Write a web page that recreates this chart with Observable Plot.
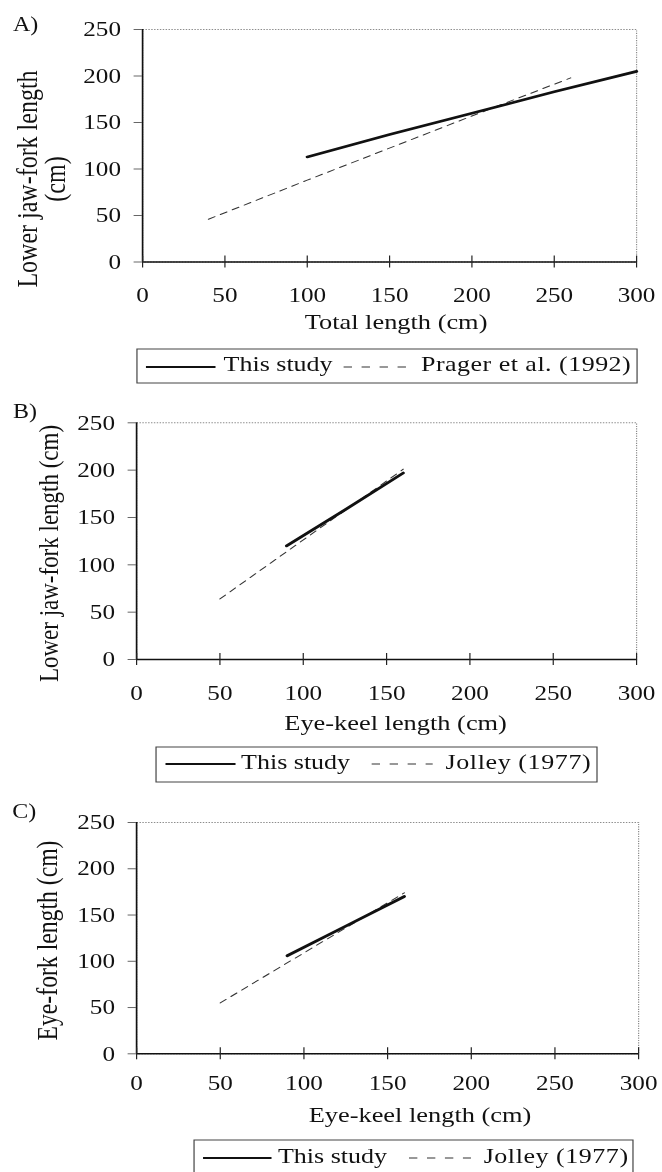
<!DOCTYPE html>
<html>
<head>
<meta charset="utf-8">
<script src="https://cdn.jsdelivr.net/npm/d3@7"></script>
<script src="https://cdn.jsdelivr.net/npm/@observablehq/plot@0.6"></script>
<style>
html,body{margin:0;padding:0;background:#fff;overflow:hidden;}
#wrap{position:relative;width:552px;height:1172px;transform:scaleX(1.19928);transform-origin:0 0;}
</style>
</head>
<body>
<div id="wrap"></div>
<script>
// ---- data ----
const xTicks = [0, 50, 100, 150, 200, 250, 300];
const yTicks = [0, 50, 100, 150, 200, 250];

// Panel A: lower jaw-fork length vs total length
const aThisX = [100, 150, 200, 250, 300];
const aThisY = [113, 137, 160, 183, 205];
const aRefX = [40, 100, 200, 260];
const aRefY = [46, 88, 157, 198];
const aNames = ["This study", "Prager et al. (1992)"];

// Panel B: lower jaw-fork length vs eye-keel length
const bThisX = [90, 125, 160];
const bThisY = [120, 158, 197];
const bRefX = [50, 160];
const bRefY = [64, 201];
const bNames = ["This study", "Jolley (1977)"];

// Panel C: eye-fork length vs eye-keel length
const cThisX = [90, 125, 160];
const cThisY = [106, 138, 170];
const cRefX = [50, 160];
const cRefY = [55, 174];
const cNames = ["This study", "Jolley (1977)"];

// ---- layout ----
const W = 552;
const FONT = '"Liberation Serif","Times New Roman",Times,serif';
const wrap = document.getElementById("wrap");

const panels = [
  {
    letter: "A)", thisX: aThisX, thisY: aThisY, refX: aRefX, refY: aRefY, names: aNames,
    yTitle: ["Lower jaw-fork length", "(cm)"], yTitleX: [30.0, 53.4], yTitleDy: 33.25, yTitleSize: 24,
    xTitle: "Total length (cm)", xTitleDx: 5.4, xTitleDy: 66.5,
    top: 0, height: 340, mt: 29, mb: 78.5, ml: 118.4, mr: 21.7, xPad: 19,
    letterX: 10.3, letterDy: 1,
    legend: {top: 349, h: 34, x0: 114.2, x1: 531.2, lineY: 18, base: 22.5, s0: 121.7, s1: 179.7, t1: 186.4, d0: 286.5, d1: 339.4, t2: 351.0, ls2: 0.4, open: false}
  },
  {
    letter: "B)", thisX: bThisX, thisY: bThisY, refX: bRefX, refY: bRefY, names: bNames,
    yTitle: ["Lower jaw-fork length (cm)"], yTitleX: [48.0], yTitleDy: 12.35, yTitleSize: 23,
    xTitle: "Eye-keel length (cm)", xTitleDx: 7.5, xTitleDy: 70,
    top: 390, height: 350, mt: 32.3, mb: 81, ml: 113.4, mr: 21.7, xPad: 19.5,
    letterX: 10.3, letterDy: -5.3,
    legend: {top: 747, h: 35, x0: 130.1, x1: 497.8, lineY: 17, base: 22, s0: 138.0, s1: 196.4, t1: 201.0, d0: 309.9, d1: 360.8, t2: 371.5, ls2: 0.5, open: false}
  },
  {
    letter: "C)", thisX: cThisX, thisY: cThisY, refX: cRefX, refY: cRefY, names: cNames,
    yTitle: ["Eye-fork length (cm)"], yTitleX: [47.3], yTitleDy: 2.35, yTitleSize: 23.7,
    xTitle: "Eye-keel length (cm)", xTitleDx: 27, xTitleDy: 67.7,
    top: 790, height: 345, mt: 32, mb: 81.7, ml: 113.4, mr: 20.0, xPad: 15,
    letterX: 9.8, letterDy: -5,
    legend: {top: 1140, h: 40, x0: 161.8, x1: 527.8, lineY: 18, base: 23, s0: 169.3, s1: 226.4, t1: 231.8, d0: 341.0, d1: 392.7, t2: 403.3, ls2: 0.45, open: true}
  }
];

function drawPanel(cfg) {
  const thisData = cfg.thisX.map((x, i) => ({x, y: cfg.thisY[i]}));
  const refData = cfg.refX.map((x, i) => ({x, y: cfg.refY[i]}));
  const marks = [
    Plot.frame({stroke: "#8c8c8c", strokeDasharray: "1.2,1.2"}),
    Plot.line(refData, {x: "x", y: "y", stroke: "#333", strokeWidth: 1, strokeDasharray: "6,5"}),
    Plot.line(thisData, {x: "x", y: "y", stroke: "#111", strokeWidth: 2.7}),
    Plot.ruleX([0], {stroke: "#111", strokeWidth: 1.4}),
    Plot.ruleY([0], {stroke: "#111", strokeWidth: 1.4}),
    Plot.axisY({ticks: yTicks, tickSize: 7, tickPadding: 11, fontSize: 21, stroke: "#666", label: null}),
    Plot.axisX({ticks: xTicks, tickSize: 12, dy: -6, tickPadding: cfg.xPad, fontSize: 21, stroke: "#222", label: null}),
    Plot.text([cfg.letter], {frameAnchor: "top-left", text: d => d, textAnchor: "start", lineAnchor: "bottom",
      dx: cfg.letterX - cfg.ml, dy: cfg.letterDy, fontSize: 20}),
    ...cfg.yTitle.map((t, i) => Plot.text([t], {frameAnchor: "left", text: d => d, rotate: -90, textAnchor: "middle",
      lineAnchor: "bottom", dx: cfg.yTitleX[i] - cfg.ml, dy: cfg.yTitleDy, fontSize: cfg.yTitleSize})),
    Plot.text([cfg.xTitle], {frameAnchor: "bottom", text: d => d, textAnchor: "middle", lineAnchor: "bottom",
      dx: cfg.xTitleDx, dy: cfg.xTitleDy, fontSize: 22})
  ];
  const svg = Plot.plot({
    width: W, height: cfg.height,
    marginTop: cfg.mt, marginBottom: cfg.mb, marginLeft: cfg.ml, marginRight: cfg.mr,
    x: {domain: [0, 300]}, y: {domain: [0, 250]},
    style: {fontFamily: FONT, background: "transparent", color: "#111", overflow: "visible"},
    marks
  });
  svg.style.position = "absolute";
  svg.style.left = "0px";
  svg.style.top = cfg.top + "px";
  wrap.appendChild(svg);

  // legend below the chart
  const L = cfg.legend;
  const lg = d3.create("svg")
    .attr("width", W).attr("height", L.h + 4)
    .style("position", "absolute").style("left", "0px").style("top", (L.top - 2) + "px")
    .style("overflow", "visible")
    .style("font-family", FONT);
  const g = lg.append("g").attr("transform", "translate(0,2)");
  if (L.open) {
    g.append("path").attr("d", `M${L.x0},${L.h}V0H${L.x1}V${L.h}`)
      .attr("fill", "none").attr("stroke", "#444").attr("stroke-width", 1);
  } else {
    g.append("rect").attr("x", L.x0).attr("y", 0).attr("width", L.x1 - L.x0).attr("height", L.h)
      .attr("fill", "none").attr("stroke", "#444").attr("stroke-width", 1);
  }
  g.append("line").attr("x1", L.s0).attr("x2", L.s1).attr("y1", L.lineY).attr("y2", L.lineY)
    .attr("stroke", "#111").attr("stroke-width", 2);
  g.append("text").attr("x", L.t1).attr("y", L.base).attr("font-size", 21.7).attr("fill", "#111").text(cfg.names[0]);
  g.append("line").attr("x1", L.d0).attr("x2", L.d1).attr("y1", L.lineY).attr("y2", L.lineY)
    .attr("stroke", "#333").attr("stroke-width", 1).attr("stroke-dasharray", "7,8");
  g.append("text").attr("x", L.t2).attr("y", L.base).attr("font-size", 21.7).attr("fill", "#111")
    .attr("letter-spacing", L.ls2).text(cfg.names[1]);
  wrap.appendChild(lg.node());
}

panels.forEach(drawPanel);
</script>
</body>
</html>
